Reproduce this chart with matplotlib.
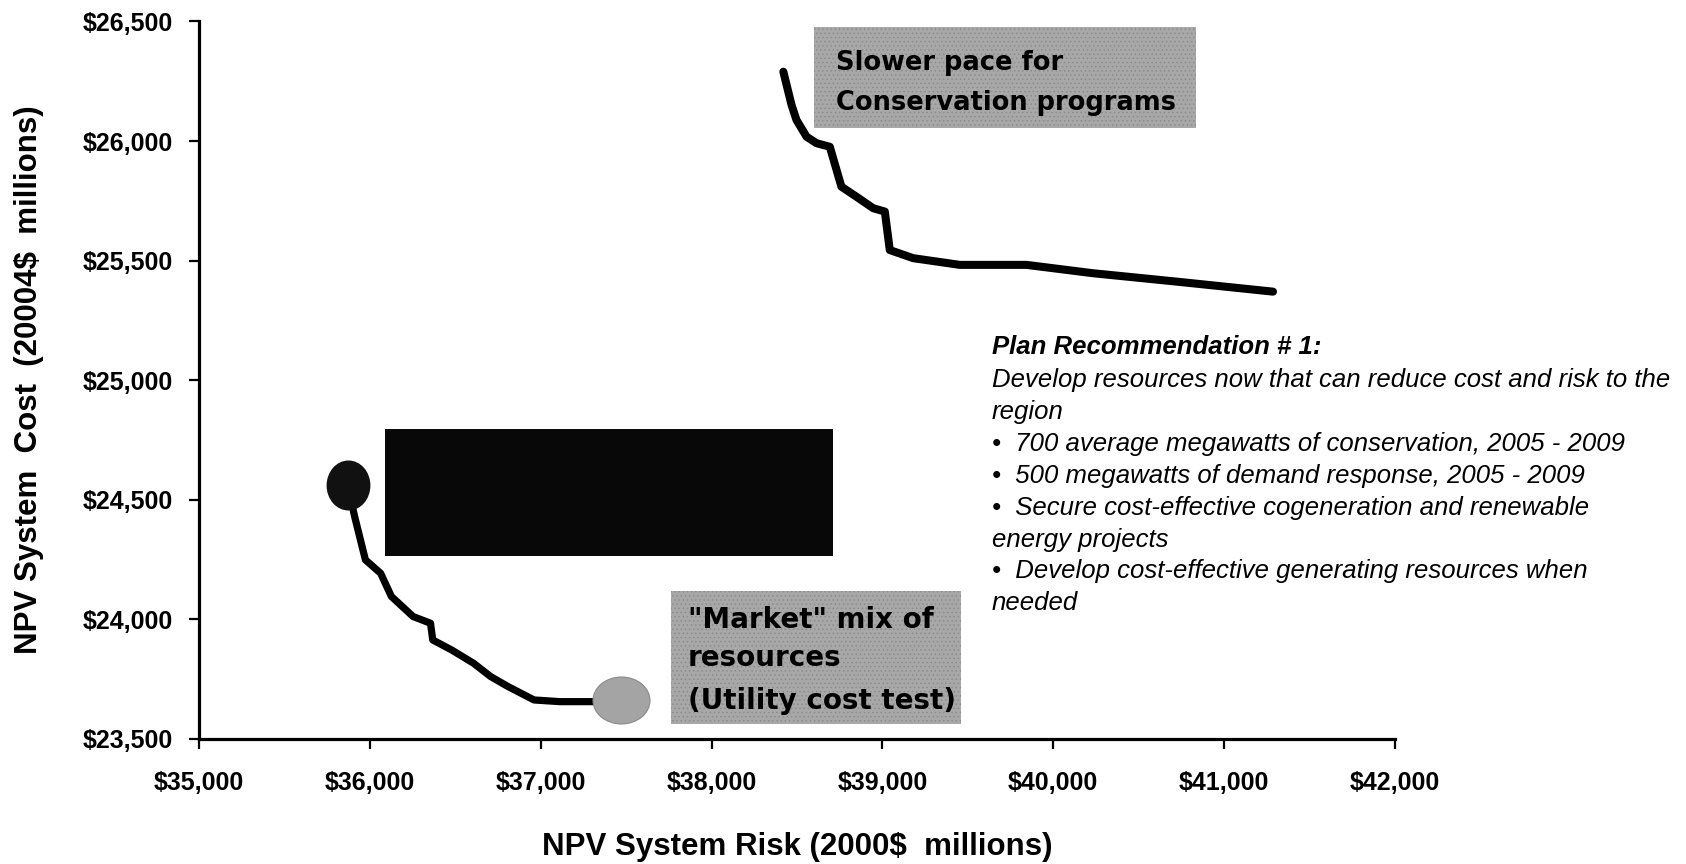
import matplotlib
matplotlib.use("Agg")
import matplotlib.pyplot as plt
from matplotlib.patches import Rectangle
from matplotlib.path import Path
from matplotlib.ticker import FuncFormatter

# efficient frontier traces (risk, cost in 2000$ millions)
risk_hi = [38420, 38468, 38497, 38556, 38614, 38692, 38760, 38848, 38946,
           39014, 39043, 39180, 39453, 39843, 40233, 40721, 41286]
cost_hi = [26290, 26151, 26088, 26018, 25991, 25976, 25809, 25767, 25719,
           25705, 25544, 25510, 25482, 25482, 25447, 25412, 25370]

risk_lo = [35870, 35911, 35974, 36063, 36126, 36253, 36355, 36368, 36479,
           36606, 36707, 36809, 36961, 37113, 37316, 37468]
cost_lo = [24562, 24429, 24248, 24192, 24095, 24011, 23983, 23913, 23871,
           23816, 23760, 23718, 23662, 23655, 23655, 23662]

x_ticks = [35000, 36000, 37000, 38000, 39000, 40000, 41000, 42000]
y_ticks = [23500, 24000, 24500, 25000, 25500, 26000, 26500]

plan_title = "Plan Recommendation # 1:"
plan_lines = [
    "Develop resources now that can reduce cost and risk to the",
    "region",
    "\u2022  700 average megawatts of conservation, 2005 - 2009",
    "\u2022  500 megawatts of demand response, 2005 - 2009",
    "\u2022  Secure cost-effective cogeneration and renewable",
    "energy projects",
    "\u2022  Develop cost-effective generating resources when",
    "needed",
]

W, H = 1686, 864
plt.rcParams["font.family"] = ["Liberation Sans", "DejaVu Sans"]
plt.rcParams["hatch.linewidth"] = 0.6

fig = plt.figure(figsize=(W / 100, H / 100), dpi=100)
ax = fig.add_axes([199 / W, 125.3 / H, 1196 / W, 717.2 / H])


def px(x, y):
    # pixel position in the reference -> figure fraction
    return x / W, 1 - y / H


def ellipse(w, h):
    p = Path.unit_circle()
    return Path(p.vertices * [w, h], p.codes)


ax.plot(risk_hi, cost_hi, color="black", lw=5.8, solid_capstyle="round",
        solid_joinstyle="round", zorder=3)
ax.plot(risk_lo, cost_lo, color="black", lw=5.2, solid_capstyle="round",
        solid_joinstyle="round", zorder=3)
ax.plot(risk_lo[:1], cost_lo[:1], marker=ellipse(41, 47), ms=35,
        color="#111111", ls="none", zorder=4)
ax.plot(risk_lo[-1:], cost_lo[-1:], marker=ellipse(57, 47), ms=41,
        mfc="#a4a4a4", mec="#8a8a8a", mew=0.8, ls="none", zorder=4)

ax.set_xlim(35000, 42000)
ax.set_ylim(23500, 26500)
ax.set_xticks(x_ticks)
ax.set_yticks(y_ticks)
money = FuncFormatter(lambda v, _: "${:,.0f}".format(v))
ax.xaxis.set_major_formatter(money)
ax.yaxis.set_major_formatter(money)
for s in ["top", "right"]:
    ax.spines[s].set_visible(False)
for s in ["left", "bottom"]:
    ax.spines[s].set_linewidth(2.3)
ax.tick_params(direction="out", length=7, width=1.6, labelsize=18)
ax.tick_params(axis="x", pad=16)
ax.tick_params(axis="y", pad=12)
for lab in ax.get_xticklabels() + ax.get_yticklabels():
    lab.set_fontweight("bold")

ax.set_xlabel("NPV System Risk (2000$  millions)", fontsize=22.5,
              fontweight="bold")
ax.set_ylabel("NPV System  Cost  (20004$  millions)", fontsize=22.5,
              fontweight="bold")
ax.xaxis.set_label_coords(0.5, -0.13)
ax.yaxis.set_label_coords(-0.130, 0.5)

# annotation boxes
box_kw = dict(transform=ax.transAxes, clip_on=False, zorder=2, lw=0)
ax.add_patch(Rectangle((0.514, 0.8515), 0.320, 0.1408, facecolor="#a8a8a8",
                       edgecolor="#8c8c8c", hatch="....", **box_kw))
ax.add_patch(Rectangle((0.1555, 0.2547), 0.3745, 0.1771, facecolor="#080808",
                       **box_kw))
ax.add_patch(Rectangle((0.3946, 0.0205), 0.2425, 0.1854, facecolor="#a8a8a8",
                       edgecolor="#8c8c8c", hatch="....", **box_kw))

wide = ["DejaVu Sans"]
ax.text(0.533, 0.9425, "Slower pace for", transform=ax.transAxes,
        fontsize=18.5, fontweight="bold", family=wide, va="center", zorder=5)
ax.text(0.533, 0.887, "Conservation programs", transform=ax.transAxes,
        fontsize=18.5, fontweight="bold", family=wide, va="center", zorder=5)

for yf, s in zip([0.1655, 0.1125, 0.0526],
                 ['"Market" mix of', "resources", "(Utility cost test)"]):
    ax.text(0.4089, yf, s, transform=ax.transAxes, fontsize=20,
            fontweight="bold", family=wide, va="center", zorder=5)

fig.text(*px(992, 347), plan_title, fontsize=18.5, fontweight="bold",
         style="italic", va="center")
for i, s in enumerate(plan_lines):
    fig.text(*px(992, 380 + i * 31.9), s, fontsize=18.5, style="italic",
             va="center")

fig.savefig("out.png", dpi=100)
